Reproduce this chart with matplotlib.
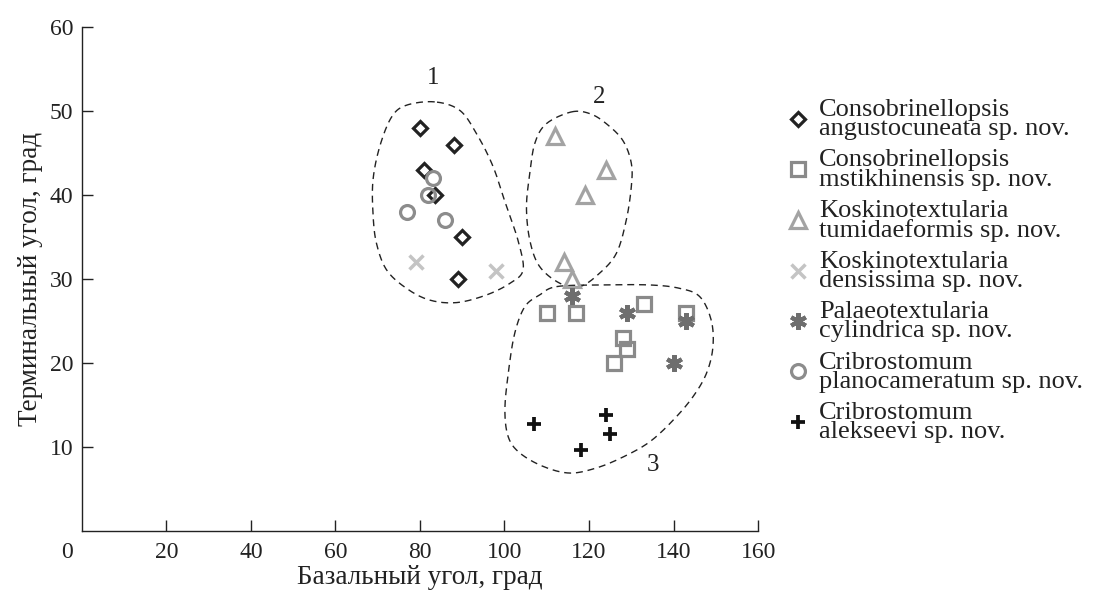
import numpy as np
import matplotlib
matplotlib.use('Agg')
import matplotlib.pyplot as plt

plt.rcParams['font.family'] = ['Liberation Serif', 'DejaVu Serif']

# species and their (basal, terminal) angles
species = [
    'Consobrinellopsis\nangustocuneata sp. nov.',
    'Consobrinellopsis\nmstikhinensis sp. nov.',
    'Koskinotextularia\ntumidaeformis sp. nov.',
    'Koskinotextularia\ndensissima sp. nov.',
    'Palaeotextularia\ncylindrica sp. nov.',
    'Cribrostomum\nplanocameratum sp. nov.',
    'Cribrostomum\nalekseevi sp. nov.',
]

angusto_x = [80, 88, 81, 83.5, 90, 89]
angusto_y = [48, 46, 43, 40, 35, 30]

mstikh_x = [110, 117, 133, 143, 128, 129, 126]
mstikh_y = [26, 26, 27, 26, 23, 21.7, 20]

tumid_x = [112, 124, 119, 114, 116]
tumid_y = [47, 43, 40, 32, 30]

densis_x = [79, 98]
densis_y = [32, 31]

cylind_x = [116, 129, 143, 140]
cylind_y = [28, 26, 25, 20]

plano_x = [83, 82, 77, 86]
plano_y = [42, 40, 38, 37]

aleks_x = [107, 124, 125, 118]
aleks_y = [12.7, 13.8, 11.6, 9.7]

# outlines of the three groups (control points, closed)
group1_x = [83.5, 76.8, 73.3, 70.5, 68.9, 68.9, 69.7, 72.1, 76.8, 82.3, 88.7, 95.7,
            101.3, 104.4, 103.2, 100.5, 97.3, 93.4, 89.4]
group1_y = [51.1, 50.7, 49.3, 45.8, 41.8, 37.8, 34.3, 31.1, 28.9, 27.5, 27.2, 28.1,
            29.5, 31.1, 34.6, 38.6, 43.4, 47.3, 50.1]

group2_x = [115.8, 120.2, 124.1, 128.0, 130.0, 130.0, 128.8, 126.5, 122.5, 117.8,
            113.1, 108.3, 106.0, 105.2, 106.0, 107.2, 109.9]
group2_y = [49.9, 49.7, 48.5, 46.5, 43.8, 41.0, 37.0, 33.1, 30.7, 29.1,
            29.5, 31.5, 34.6, 38.6, 42.6, 46.2, 48.5]

group3_x = [112.3, 122.5, 134.3, 141.4, 146.2, 148.9, 149.3, 147.8, 144.6, 139.9,
            134.3, 128.0, 121.7, 115.4, 109.1, 103.6, 100.9, 100.1, 100.9, 102.4,
            104.8, 108.3]
group3_y = [29.1, 29.3, 29.3, 28.9, 27.9, 25.1, 21.9, 18.8, 16.0, 13.2,
            10.6, 8.8, 7.5, 6.9, 7.7, 9.3, 11.2, 14.4, 18.8, 23.5,
            26.7, 28.1]

group_labels = ['1', '2', '3']
group_label_x = [83.1, 122.5, 135.1]
group_label_y = [53.9, 51.7, 7.9]


def smooth_closed(xs, ys, n=24):
    # closed Catmull-Rom curve through the control points
    pts = np.column_stack([xs, ys])
    m = len(pts)
    t = np.linspace(0, 1, n, endpoint=False)[:, None]
    segs = []
    for i in range(m):
        p0, p1, p2, p3 = pts[(i - 1) % m], pts[i], pts[(i + 1) % m], pts[(i + 2) % m]
        seg = 0.5 * (2 * p1 + (-p0 + p2) * t + (2 * p0 - 5 * p1 + 4 * p2 - p3) * t ** 2
                     + (-p0 + 3 * p1 - 3 * p2 + p3) * t ** 3)
        segs.append(seg)
    segs.append(pts[:1])
    out = np.vstack(segs)
    return out[:, 0], out[:, 1]


fig = plt.figure(figsize=(10.94, 5.90), dpi=100)
ax = fig.add_axes([0.0747, 0.1, 0.6183, 0.854])

# outlines
for gx, gy in [(group1_x, group1_y), (group2_x, group2_y), (group3_x, group3_y)]:
    sx, sy = smooth_closed(gx, gy)
    ax.plot(sx, sy, color='#222222', lw=1.0, ls=(0, (5, 3.5)), zorder=1)

for lab, lx, ly in zip(group_labels, group_label_x, group_label_y):
    ax.text(lx, ly, lab, fontsize=18, ha='center', va='center', color='#222222')

# points
handles = []
h, = ax.plot(angusto_x, angusto_y, ls='none', marker='D', ms=7.5, mfc='none',
             mec='#222222', mew=2.3, zorder=3)
handles.append(h)
h, = ax.plot(mstikh_x, mstikh_y, ls='none', marker='s', ms=10, mfc='none',
             mec='#8a8a8a', mew=2.3, zorder=3)
handles.append(h)
h, = ax.plot(tumid_x, tumid_y, ls='none', marker='^', ms=11, mfc='none',
             mec='#a3a3a3', mew=2.3, zorder=3)
handles.append(h)
h, = ax.plot(densis_x, densis_y, ls='none', marker='x', ms=10, mfc='none',
             mec='#c4c4c4', mew=2.5, zorder=3)
handles.append(h)
h, = ax.plot(cylind_x, cylind_y, ls='none', marker=(6, 2, 0), ms=12, mfc='none',
             mec='#6e6e6e', mew=3.0, zorder=4)
handles.append(h)
h, = ax.plot(plano_x, plano_y, ls='none', marker='o', ms=10, mfc='none',
             mec='#8c8c8c', mew=2.3, zorder=3)
handles.append(h)
h, = ax.plot(aleks_x, aleks_y, ls='none', marker='+', ms=10, mfc='none',
             mec='#111111', mew=2.7, zorder=3)
handles.append(h)

# axes
ax.set_xlim(0, 160)
ax.set_ylim(0, 60)
ax.set_xticks(range(20, 161, 20))
ax.set_yticks(range(10, 61, 10))
ax.tick_params(direction='in', length=8, width=1, colors='#222222', labelsize=17)
ax.tick_params(axis='x', pad=8)
ax.tick_params(axis='y', pad=6)
for side in ['top', 'right']:
    ax.spines[side].set_visible(False)
for side in ['left', 'bottom']:
    ax.spines[side].set_linewidth(1.0)
    ax.spines[side].set_color('#222222')
ax.annotate('0', xy=(0, 0), xycoords='data', xytext=(-10.5, -8), textcoords='offset points',
            ha='center', va='top', fontsize=17, color='#222222')

ax.set_xlabel('Базальный угол, град', fontsize=19.5, color='#222222', labelpad=1)
ax.set_ylabel('Терминальный угол, град', fontsize=19.5, color='#222222', labelpad=5)

leg = fig.legend(handles, species, loc='upper left', bbox_to_anchor=(0.7198, 0.832),
                 frameon=False, fontsize=19, handlelength=0.8, handletextpad=0.4,
                 labelspacing=0.35, borderpad=0, borderaxespad=0)
for t in leg.get_texts():
    t.set_linespacing(0.83)
    t.set_color('#222222')

fig.savefig('out.png', dpi=100)
